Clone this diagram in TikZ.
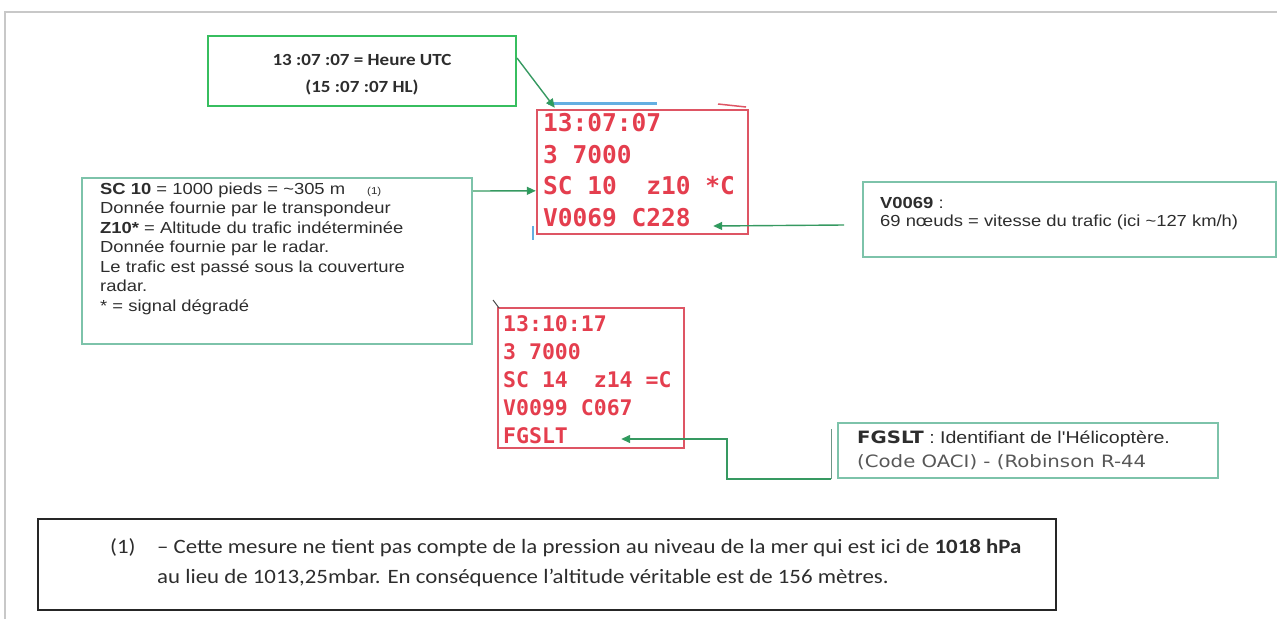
\documentclass[tikz,border=0pt]{standalone}
\usepackage{fontspec}
\setmainfont{Liberation Sans}
\usetikzlibrary{arrows.meta}
\newfontfamily\calib[FakeStretch=1.12]{Carlito}
\newfontfamily\arialw[FakeStretch=1.15]{Liberation Sans}
\newfontfamily\verd[FakeStretch=1.16]{DejaVu Sans}
\newfontfamily\monob{DejaVu Sans Mono}
\definecolor{boxgreen}{RGB}{55,190,95}
\definecolor{tealbox}{RGB}{125,195,170}
\definecolor{arrowgreen}{RGB}{35,160,90}
\definecolor{linegray}{RGB}{110,150,135}
\definecolor{radred}{RGB}{222,85,100}
\definecolor{radtext}{RGB}{228,62,78}
\definecolor{txt}{RGB}{45,45,45}
\definecolor{framegray}{RGB}{200,200,200}
\definecolor{marksblue}{RGB}{100,175,225}
\begin{document}
\begin{tikzpicture}[x=1pt,y=-1pt,
  gbox/.style={draw=boxgreen,line width=2pt,inner sep=0pt},
  tbox/.style={draw=tealbox,line width=2pt,inner sep=0pt},
  rbox/.style={draw=radred,line width=2.4pt,inner sep=0pt},
  kbox/.style={draw=black!85,line width=2.4pt,inner sep=0pt},
  txtnode/.style={inner sep=0pt,text=txt,align=left},
  radnode/.style={inner sep=0pt,text=radtext,align=left},
  arr/.style={draw=arrowgreen!80!gray,line width=1.4pt,-{Triangle[length=9pt,width=8pt,fill=arrowgreen]}},
]
\path[use as bounding box] (0,0) rectangle (1277,619);
% page frame
\draw[framegray,line width=1.5pt] (5,619) -- (5,12) -- (1277,12);

% boxes
\node[gbox,minimum width=308pt,minimum height=70pt] (b1) at (362,71) {};
\node[rbox,minimum width=211pt,minimum height=124pt] (r1) at (642.5,172) {};
\node[tbox,minimum width=390pt,minimum height=166pt] (b2) at (277,261) {};
\node[tbox,minimum width=413pt,minimum height=75pt] (b3) at (1069.5,219.5) {};
\node[rbox,minimum width=186pt,minimum height=140pt] (r2) at (591,378) {};
\node[tbox,minimum width=380pt,minimum height=55pt] (b4) at (1028,450.5) {};
\node[kbox,minimum width=1018pt,minimum height=91pt] (b5) at (547,564.5) {};

% small marks around the radar labels
\draw[marksblue,line width=3pt] (548,103) -- (657,103);
\draw[marksblue,line width=1.5pt] (533,226) -- (533,240);
\draw[radred,line width=1.5pt] (718,104) -- (746,107);
\draw[black!70,line width=1pt] (493,300) -- (499,308);

% texts (anchor base = baseline of the last line)
\node[txtnode,align=center,font=\calib\bfseries\fontsize{17}{27}\selectfont] (t1) at (362,75)
  {13 :07 :07 = Heure UTC\\(15 :07 :07 HL)};

\node[radnode,anchor=base west,font=\monob\bfseries\fontsize{24.5}{31.7}\selectfont] (tr1) at (543,226.6)
  {13:07:07\\3 7000\\SC 10\ \ z10 *C\\V0069 C228};

\node[txtnode,anchor=base west,font=\arialw\fontsize{16}{19.5}\selectfont] (t2) at (100,311)
  {\textbf{SC 10} = 1000 pieds = \textasciitilde 305 m\hspace{22pt}{\fontsize{10}{12}\selectfont(1)}\\
   Donnée fournie par le transpondeur\\
   \textbf{Z10*} = Altitude du trafic indéterminée\\
   Donnée fournie par le radar.\\
   Le trafic est passé sous la couverture\\
   radar.\\
   * = signal dégradé};

\node[txtnode,anchor=base west,font=\arialw\fontsize{16}{18.5}\selectfont] (t3) at (880,226.5)
  {\textbf{V0069} :\\69 nœuds = vitesse du trafic (ici \textasciitilde 127 km/h)};

\node[radnode,anchor=base west,font=\monob\bfseries\fontsize{21.5}{28}\selectfont] (tr2) at (503,443)
  {13:10:17\\3 7000\\SC 14\ \ z14 =C\\V0099 C067\\FGSLT};

\node[txtnode,anchor=base west,font=\arialw\fontsize{17}{24}\selectfont] (t4) at (857,467)
  {{\verd\bfseries FGSLT} : Identifiant de l'Hélicoptère.\\
   {\verd\color{txt!80}(Code OACI) - (Robinson R-44}};

\node[txtnode,anchor=base west,font=\calib\fontsize{20.4}{30}\selectfont] (t5a) at (110,553) {(1)};
\node[txtnode,anchor=base west,font=\calib\fontsize{20.4}{30}\selectfont] (t5) at (157,583)
  {– Cette mesure ne tient pas compte de la pression au niveau de la mer qui est ici de \textbf{1018 hPa}\\
   au lieu de 1013,25mbar. En conséquence l’altitude véritable est de 156 mètres.};

% connectors
\draw[arr] ([yshift=-23pt]b1.north east) -- ([xshift=19pt,yshift=1pt]r1.north west);
\draw[arr] ([yshift=-14pt]b2.north east) -- ([yshift=-82pt]r1.north west);
\draw[arr] ([xshift=-18pt,yshift=-5.5pt]b3.west) -- ([xshift=-36pt,yshift=-54pt]r1.east);
\draw[linegray,line width=1pt] ([xshift=-6pt]b4.south west) -- ([xshift=-6pt,yshift=50pt]b4.south west);
\coordinate (k4) at (727,439);
\draw[arr] ([xshift=-6pt]b4.south west) -| (k4) -- ([xshift=-64pt,yshift=-61pt]r2.east);
\end{tikzpicture}
\end{document}
